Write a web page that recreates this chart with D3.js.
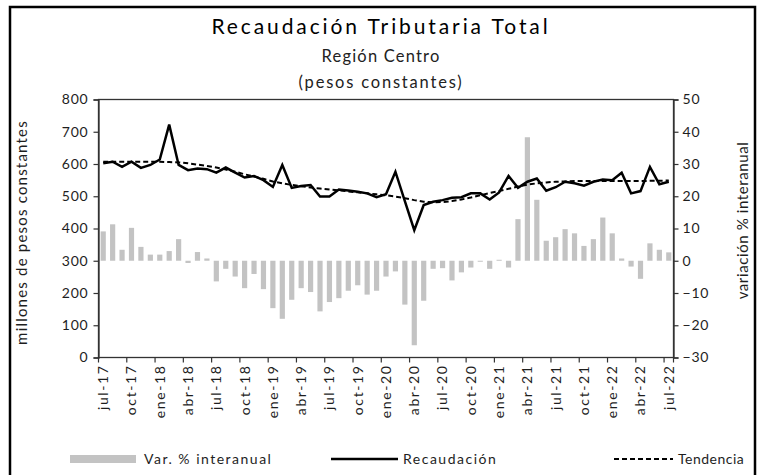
<!DOCTYPE html>
<html>
<head>
<meta charset="utf-8">
<script src="https://cdn.jsdelivr.net/npm/d3@7/dist/d3.min.js"></script>
<style>
  body { margin: 0; background: #fff; }
  text { font-family: 'Lato', 'DejaVu Sans', sans-serif; }
</style>
</head>
<body>
<svg id="chart" width="762" height="475"></svg>
<script>
// Monthly categories, jul-17 to jul-22
const months = [
  "jul-17","ago-17","sep-17","oct-17","nov-17","dic-17",
  "ene-18","feb-18","mar-18","abr-18","may-18","jun-18",
  "jul-18","ago-18","sep-18","oct-18","nov-18","dic-18",
  "ene-19","feb-19","mar-19","abr-19","may-19","jun-19",
  "jul-19","ago-19","sep-19","oct-19","nov-19","dic-19",
  "ene-20","feb-20","mar-20","abr-20","may-20","jun-20",
  "jul-20","ago-20","sep-20","oct-20","nov-20","dic-20",
  "ene-21","feb-21","mar-21","abr-21","may-21","jun-21",
  "jul-21","ago-21","sep-21","oct-21","nov-21","dic-21",
  "ene-22","feb-22","mar-22","abr-22","may-22","jun-22",
  "jul-22"
];

// Recaudación (millones de pesos constantes)
const recaudacion = [
  602, 607, 591, 607, 588, 597, 614, 722, 597, 581, 586, 584,
  573, 589, 573, 558, 563, 550, 529, 597, 526, 532, 535, 499,
  499, 521, 518, 514, 509, 497, 506, 576, 485, 395, 473, 483,
  488, 495, 497, 509, 509, 490, 512, 563, 526, 545, 555, 517,
  528, 545, 540, 533, 545, 552, 550, 573, 509, 516, 591, 537,
  545
];

// Tendencia (millones de pesos constantes)
const tendencia = [
  607, 607, 607, 607, 607, 607, 607, 606, 605, 602, 598, 594,
  589, 583, 576, 568, 561, 554, 546, 540, 535, 531, 527, 524,
  521, 518, 515, 512, 509, 506, 503, 499, 494, 488, 483, 481,
  482, 485, 490, 496, 503, 510, 516, 523, 530, 536, 540, 543,
  545, 546, 547, 547, 547, 547, 547, 547, 547, 547, 548, 548,
  549
];

// Var. % interanual
const variacion = [
  9.1, 11.3, 3.4, 10.2, 4.3, 1.9, 1.9, 3.0, 6.7, -0.7, 2.7, 0.7,
  -6.4, -2.5, -4.9, -8.5, -4.1, -8.8, -14.7, -18.0, -12.1, -8.5, -9.7, -15.7,
  -12.8, -11.6, -9.3, -7.6, -10.5, -9.3, -4.9, -3.3, -13.6, -26.2, -12.4, -2.5,
  -2.3, -6.1, -3.6, -2.1, -0.3, -2.5, 0.3, -2.1, 12.9, 38.3, 18.9, 6.2,
  7.3, 9.8, 8.5, 4.6, 6.7, 13.4, 8.5, 0.7, -1.8, -5.6, 5.4, 3.4,
  2.6
];

const leftTicks = [0, 100, 200, 300, 400, 500, 600, 700, 800];
const rightTicks = [-30, -20, -10, 0, 10, 20, 30, 40, 50];
const labelEvery = 3;

const titleLines = ["Recaudación Tributaria Total", "Región Centro", "(pesos constantes)"];
const leftAxisTitle = "millones de pesos constantes";
const rightAxisTitle = "variación % interanual";
const legendItems = ["Var. % interanual", "Recaudación", "Tendencia"];

const svg = d3.select("#chart");
const W = 762, H = 475;
const plot = { left: 98.5, right: 673.5, top: 99.5, bottom: 357.5 };
const barColor = "#c3c3c3";
const inkColor = "#1e1e1e";

// Outer frame
svg.append("path")
  .attr("d", `M10,${H + 5} L10,7 L755,7 L755,${H + 5}`)
  .attr("fill", "none").attr("stroke", "#000").attr("stroke-width", 2.5);

// Titles
const titleY = [34, 62, 88];
const titleSize = [21, 16.5, 16.5];
const titleSpacing = [2.9, 1.2, 1.8];
titleLines.forEach((t, i) => {
  svg.append("text").attr("x", 381).attr("y", titleY[i])
    .attr("text-anchor", "middle").attr("font-size", titleSize[i])
    .attr("letter-spacing", titleSpacing[i])
    .attr("fill", i === 0 ? "#000" : "#222").text(t);
});

// Scales
const pad = 0.45;
const x = d3.scaleBand().domain(months)
  .range([plot.left, plot.right]).paddingInner(pad).paddingOuter(pad / 2);
const step = x.step();
const cx = m => x(m) + x.bandwidth() / 2;
const yL = d3.scaleLinear().domain([0, 800]).range([plot.bottom, plot.top]);
const yR = d3.scaleLinear().domain([-30, 50]).range([plot.bottom, plot.top]);

// Bars (right axis)
svg.append("g").selectAll("rect").data(variacion).join("rect")
  .attr("x", (d, i) => x(months[i]))
  .attr("width", x.bandwidth())
  .attr("y", d => Math.min(yR(d), yR(0)))
  .attr("height", d => Math.abs(yR(d) - yR(0)))
  .attr("fill", barColor);

// Plot box
svg.append("rect")
  .attr("x", plot.left).attr("y", plot.top)
  .attr("width", plot.right - plot.left).attr("height", plot.bottom - plot.top)
  .attr("fill", "none").attr("stroke", "#333").attr("stroke-width", 1.3);

// Left axis
const gL = svg.append("g").attr("transform", `translate(${plot.left},0)`)
  .call(d3.axisLeft(yL).tickValues(leftTicks).tickSize(5).tickPadding(5));
// Right axis
const gR = svg.append("g").attr("transform", `translate(${plot.right},0)`)
  .call(d3.axisRight(yR).tickValues(rightTicks).tickSize(5).tickPadding(4));
[gL, gR].forEach(g => {
  g.select(".domain").attr("stroke", "#333").attr("stroke-width", 1.3);
  g.selectAll(".tick line").attr("stroke", "#333").attr("stroke-width", 1.2);
  g.selectAll(".tick text").attr("font-size", 14).attr("fill", inkColor)
    .attr("letter-spacing", 0.8)
    .style("font-family", "'Lato', sans-serif");
});

// Bottom axis: ticks at category boundaries every third month, labels centred
const labelled = months.filter((m, i) => i % labelEvery === 0);
const gB = svg.append("g").attr("transform", `translate(0,${plot.bottom})`)
  .call(d3.axisBottom(x).tickValues(labelled).tickSize(0).tickPadding(0));
gB.select(".domain").remove();
gB.selectAll(".tick text")
  .attr("transform", "translate(0,7) rotate(-90)")
  .attr("text-anchor", "end").attr("dy", "0.35em").attr("x", 0).attr("y", 0)
  .attr("font-size", 14).attr("fill", inkColor)
  .attr("letter-spacing", 1.6)
  .style("font-family", "'Lato', sans-serif");
const boundaries = months.map((m, i) => i).filter(i => i % labelEvery === 0)
  .map(i => x(months[i]) - (step - x.bandwidth()) / 2).concat([plot.right]);
svg.append("g").selectAll("line").data(boundaries).join("line")
  .attr("x1", d => d).attr("x2", d => d)
  .attr("y1", plot.bottom).attr("y2", plot.bottom + 5)
  .attr("stroke", "#333").attr("stroke-width", 1.2);

// Lines (left axis)
const lineGen = d3.line().x((d, i) => cx(months[i])).y(d => yL(d));
svg.append("path").datum(tendencia).attr("d", lineGen)
  .attr("fill", "none").attr("stroke", "#000").attr("stroke-width", 2)
  .attr("stroke-dasharray", "5,3");
svg.append("path").datum(recaudacion).attr("d", lineGen)
  .attr("fill", "none").attr("stroke", "#000").attr("stroke-width", 2.5)
  .attr("stroke-linejoin", "miter");

// Axis titles
svg.append("text").attr("transform", `translate(27,${(plot.top + plot.bottom) / 2 + 4}) rotate(-90)`)
  .attr("text-anchor", "middle").attr("font-size", 15).attr("fill", inkColor)
  .attr("letter-spacing", 1.2).text(leftAxisTitle);
svg.append("text").attr("transform", `translate(743,${(plot.top + plot.bottom) / 2 - 8}) rotate(-90)`)
  .attr("text-anchor", "middle").attr("font-size", 15).attr("fill", inkColor)
  .attr("letter-spacing", 0.6).attr("dy", "0.35em").text(rightAxisTitle);

// Legend
const ly = 459;
const legendFont = 14;
svg.append("rect").attr("x", 70).attr("y", ly - 4).attr("width", 66).attr("height", 8).attr("fill", barColor);
svg.append("text").attr("x", 144).attr("y", ly).attr("dy", "0.35em").attr("font-size", legendFont)
  .attr("letter-spacing", 1.5).attr("fill", inkColor).text(legendItems[0]);
svg.append("line").attr("x1", 331).attr("x2", 398).attr("y1", ly).attr("y2", ly).attr("stroke", "#000").attr("stroke-width", 2.5);
svg.append("text").attr("x", 403).attr("y", ly).attr("dy", "0.35em").attr("font-size", legendFont)
  .attr("letter-spacing", 1.5).attr("fill", inkColor).text(legendItems[1]);
svg.append("line").attr("x1", 614).attr("x2", 673).attr("y1", ly).attr("y2", ly).attr("stroke", "#000").attr("stroke-width", 2).attr("stroke-dasharray", "5,3");
svg.append("text").attr("x", 678).attr("y", ly).attr("dy", "0.35em").attr("font-size", legendFont)
  .attr("letter-spacing", 0.5).attr("fill", inkColor).text(legendItems[2]);
</script>
</body>
</html>
